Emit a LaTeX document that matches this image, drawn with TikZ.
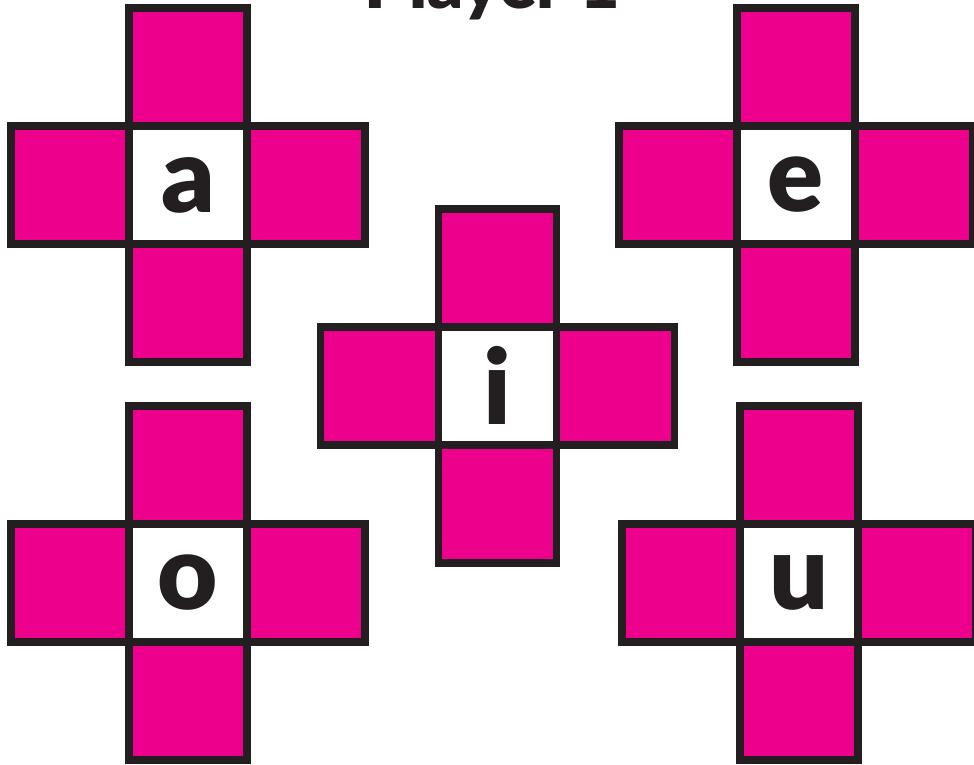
\documentclass[tikz,border=0pt]{standalone}
\usepackage{fontspec}
\newfontfamily\heavy{Lato Black}
\definecolor{mag}{HTML}{EC008C}
\definecolor{ink}{HTML}{231F20}
\tikzset{
  cell/.style={draw=ink, line width=7.7pt, fill=mag, minimum size=118pt, inner sep=0pt, outer sep=0pt, rectangle},
  hub/.style={cell, fill=white, text=ink, font=\heavy\fontsize{104}{104}\selectfont},
  title/.style={text=ink, font=\heavy\fontsize{70}{70}\selectfont, inner sep=0pt, anchor=base}
}
\begin{document}
\begin{tikzpicture}[x=1pt,y=-1pt]
\useasboundingbox (0,0) rectangle (974,764);
\node[title] (title) at (492.5,8.5) {Player 1};
\foreach \n/\x/\y in {a/188/185, e/795.7/185, i/497.5/385.7, o/188/582.7, u/798.8/582.7} {
  \node[cell] (\n-n) at (\x,\y-118) {};
  \node[cell] (\n-s) at (\x,\y+118) {};
  \node[cell] (\n-w) at (\x-118,\y) {};
  \node[cell] (\n-e) at (\x+118,\y) {};
  \node[hub] (\n-c) at (\x,\y) {\n};
}
\end{tikzpicture}
\end{document}
